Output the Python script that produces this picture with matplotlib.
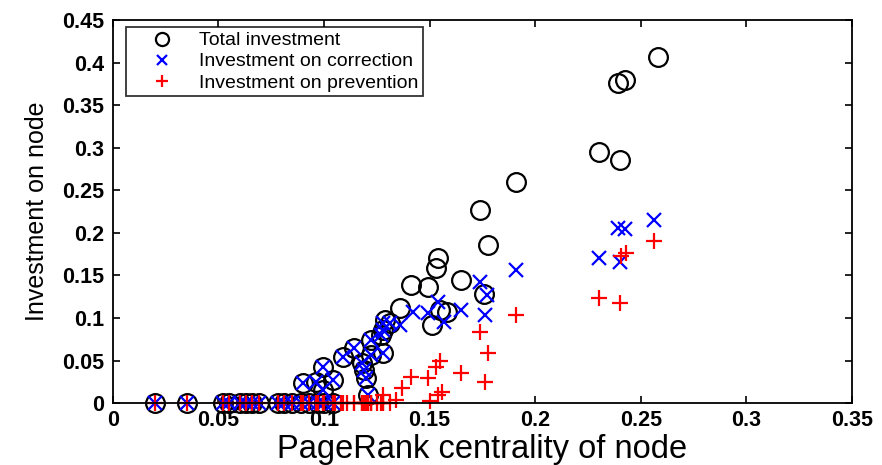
import matplotlib
matplotlib.use("Agg")
import matplotlib.pyplot as plt

plt.rcParams['font.family'] = ['Liberation Sans', 'DejaVu Sans']

# ---- data ----
zero_x = [0.020, 0.035, 0.052, 0.055, 0.060, 0.063, 0.066, 0.069, 0.078,
          0.081, 0.085, 0.089, 0.093, 0.097, 0.100, 0.104]

low_x = [0.090, 0.096, 0.0997, 0.104, 0.0997, 0.109, 0.114, 0.122, 0.127,
         0.128, 0.118, 0.119, 0.120, 0.121, 0.128, 0.131, 0.122]
low_y = [0.0235, 0.025, 0.042, 0.027, 0.015, 0.054, 0.065, 0.074, 0.080,
         0.059, 0.047, 0.039, 0.029, 0.009, 0.086, 0.094, 0.056]

total_x = [0.129, 0.136, 0.141, 0.149, 0.165, 0.154, 0.153, 0.155, 0.158,
           0.151, 0.1755, 0.1775, 0.174, 0.191, 0.230, 0.240, 0.239,
           0.2425, 0.258]
total_y = [0.098, 0.112, 0.139, 0.136, 0.145, 0.170, 0.159, 0.109, 0.107,
           0.092, 0.128, 0.186, 0.227, 0.260, 0.295, 0.286, 0.376,
           0.380, 0.407]

corr_x = [0.128, 0.136, 0.142, 0.149, 0.154, 0.157, 0.165, 0.174, 0.177,
          0.176, 0.191, 0.230, 0.240, 0.239, 0.2425, 0.256]
corr_y = [0.094, 0.092, 0.107, 0.106, 0.119, 0.095, 0.109, 0.142, 0.127,
          0.103, 0.156, 0.170, 0.166, 0.206, 0.204, 0.215]

prev_zero_x = [0.105, 0.108, 0.111, 0.114, 0.118, 0.120, 0.122, 0.125]
prev_x = [0.128, 0.134, 0.137, 0.141, 0.149, 0.155, 0.153, 0.165, 0.150,
          0.154, 0.156, 0.174, 0.1775, 0.176, 0.191, 0.230, 0.240, 0.2405,
          0.243, 0.256]
prev_y = [0.009, 0.004, 0.018, 0.031, 0.029, 0.050, 0.042, 0.035, 0.002,
          0.009, 0.013, 0.084, 0.059, 0.025, 0.103, 0.124, 0.118, 0.173,
          0.176, 0.191]

x_ticks = [0, 0.05, 0.1, 0.15, 0.2, 0.25, 0.3, 0.35]
x_tick_labels = ['0', '0.05', '0.1', '0.15', '0.2', '0.25', '0.3', '0.35']
y_ticks = [0, 0.05, 0.1, 0.15, 0.2, 0.25, 0.3, 0.35, 0.4, 0.45]
y_tick_labels = ['0', '0.05', '0.1', '0.15', '0.2', '0.25', '0.3', '0.35', '0.4', '0.45']

# ---- assemble series ----
tx = zero_x + low_x + total_x
ty = [0.0] * len(zero_x) + low_y + total_y
cx = zero_x + low_x + corr_x
cy = [0.0] * len(zero_x) + low_y + corr_y
px = zero_x + low_x + prev_zero_x + prev_x
py = [0.0] * (len(zero_x) + len(low_x) + len(prev_zero_x)) + prev_y

fig = plt.figure(figsize=(8.82, 4.65), dpi=100)
ax = fig.add_axes([0.128, 0.133, 0.838, 0.824])

ax.plot(tx, ty, 'o', mfc='none', mec='black', ms=13.5, mew=1.6, ls='none',
        label='Total investment', clip_on=False)
ax.plot(cx, cy, 'x', color='#0000ff', ms=10, mew=1.6, ls='none',
        label='Investment on correction', clip_on=False)
ax.plot(px, py, '+', color='#ff0000', ms=12, mew=1.6, ls='none',
        label='Investment on prevention', clip_on=False)

ax.set_xlim(0, 0.35)
ax.set_ylim(0, 0.45)
ax.set_xticks(x_ticks)
ax.set_xticklabels(x_tick_labels, fontsize=15.5, fontweight='bold')
ax.set_yticks(y_ticks)
ax.set_yticklabels(y_tick_labels, fontsize=15.5, fontweight='bold')
ax.tick_params(direction='in', top=True, right=True, length=5, width=1.2)
ax.tick_params(axis='y', pad=6)
ax.tick_params(axis='x', pad=5)
for s in ax.spines.values():
    s.set_linewidth(1.3)

ax.set_xlabel('PageRank centrality of node', fontsize=23.5, labelpad=2)
ax.set_ylabel('Investment on node', fontsize=18, labelpad=10)

leg = ax.legend(loc='upper left', bbox_to_anchor=(0.0176, 0.982), fontsize=14,
                frameon=True, fancybox=False, edgecolor='black',
                borderpad=0.25, labelspacing=0.18, handletextpad=0.3,
                handlelength=3.2, markerscale=0.7, borderaxespad=0)
leg.get_frame().set_linewidth(1.3)

fig.savefig('out.png', dpi=100)
